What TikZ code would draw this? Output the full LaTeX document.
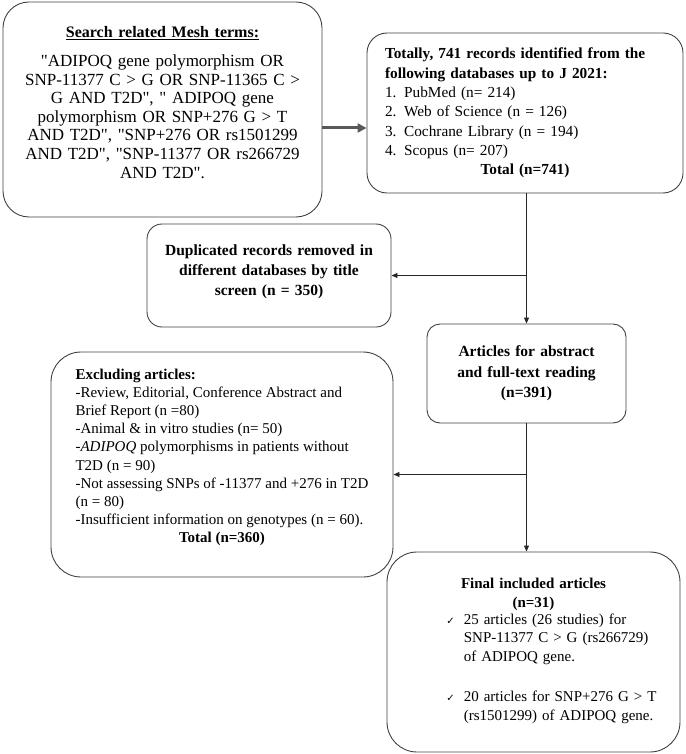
\documentclass[tikz,border=0pt]{standalone}
\usepackage{fontspec}
\setmainfont{Liberation Serif}
\newfontfamily\symfont{DejaVu Sans}
\usetikzlibrary{arrows.meta}
\usetikzlibrary{calc}
\usetikzlibrary{positioning}

\newcommand\qq{\textquotedbl}
\newcommand\chk{{\symfont\fontsize{10}{10}\selectfont ✓}}

\begin{document}
\begin{tikzpicture}[x=1pt, y=1pt,
		box/.style={draw=black!75, line width=0.9pt, inner sep=0pt},
		flow/.style={draw=black!85, line width=0.9pt, -{Triangle[length=6pt,width=5pt]}},
		bigflow/.style={draw=black!65, line width=3pt, -{Triangle[length=9pt,width=9pt]}}]
		\useasboundingbox (0,0) rectangle (685,-754);
		
		% search terms and databases
		\node[box, rounded corners=26pt, minimum width=319pt, minimum height=215pt,
			text width=312pt, align=center, font=\fontsize{17}{18.6}\selectfont] (search) at (162.5,-109.5)
			{{\fontsize{16}{18.6}\selectfont\textbf{\underline{Search related Mesh terms:}}}\\[10pt]
			\qq ADIPOQ gene polymorphism OR\\
			SNP-11377 C > G OR SNP-11365 C >\\
			G AND T2D\qq, \qq\ ADIPOQ gene\\
			polymorphism OR SNP+276 G > T\\
			AND T2D\qq, \qq SNP+276 OR rs1501299\\
			AND T2D\qq, \qq SNP-11377 OR rs266729\\
			AND T2D\qq.\\[-4.6pt]\mbox{}};
		\node[box, rounded corners=20pt, minimum width=316pt, minimum height=160pt,
			text width=280pt, align=left, font=\fontsize{15.3}{19.3}\selectfont] (total) at (525,-113)
			{\textbf{Totally, 741 records identified from the}\\
			\textbf{following databases up to J 2021:}\\
			1. PubMed (n= 214)\\
			2. Web of Science (n = 126)\\
			3. Cochrane Library (n = 194)\\
			4. Scopus (n= 207)\\
			\makebox[\linewidth]{\textbf{Total (n=741)}}};
		
		% screening
		\node[box, rounded corners=15pt, minimum width=244pt, minimum height=103pt,
			text width=232pt, align=center, font=\bfseries\fontsize{15.5}{20}\selectfont] (dup) at (269,-275.5)
			{Duplicated records removed in\\ different databases by title\\ screen (n = 350)\\[-10pt]\mbox{}};
		\node[box, rounded corners=13pt, minimum width=199pt, minimum height=99pt,
			text width=195pt, align=center, font=\bfseries\fontsize{15.5}{20.5}\selectfont] (articles) at (526.5,-373.5)
			{Articles for abstract\\ and full-text reading\\ (n=391)};
		\node[box, rounded corners=30pt, minimum width=342pt, minimum height=225pt,
			font=\fontsize{15}{18.2}\selectfont] (excl) at (222,-464.5)
			{\begin{tabular}{@{}l@{}}
				\textbf{Excluding articles:}\\
				-Review, Editorial, Conference Abstract and\\
				Brief Report (n =80)\\
				-Animal \& in vitro studies (n= 50)\\
				-\textit{ADIPOQ} polymorphisms in patients without\\
				T2D (n = 90)\\
				-Not assessing SNPs of -11377 and +276 in T2D\\
				(n = 80)\\
				-Insufficient information on genotypes (n = 60).\\
				\multicolumn{1}{@{}c@{}}{\textbf{Total (n=360)}}\\[-4pt]
				{}
			\end{tabular}};
		\node[box, rounded corners=30pt, minimum width=293pt, minimum height=200pt,
			text width=285pt, align=center, font=\fontsize{15}{18.5}\selectfont] (final) at (533.5,-652)
			{\textbf{Final included articles}\\
			\textbf{(n=31)}\\
			\hspace*{36pt}\begin{tabular}{@{}l@{\hspace{9pt}}l@{}}
				\chk & 25 articles (26 studies) for\\
				& SNP-11377 C > G (rs266729)\\
				& of ADIPOQ gene.\\[22pt]
				\chk & 20 articles for SNP+276 G > T\\
				& (rs1501299) of ADIPOQ gene.
			\end{tabular}};
		
		% connectors
		\coordinate (b1) at (articles.north |- dup.east);
		\coordinate (b2) at ($(articles.south |- excl.east)+(0,-10)$);
		\draw[bigflow] ([yshift=-18.5pt]search.east) -- ([yshift=-15pt]total.west);
		\draw[flow] (articles.north |- total.south) -- (articles.north);
		\draw[flow] (b1) -- (dup.east);
		\draw[flow] (articles.south) -- (articles.south |- final.north);
		\draw[flow] (b2) -- (b2 -| excl.east);
		
	\end{tikzpicture}
\end{document}
